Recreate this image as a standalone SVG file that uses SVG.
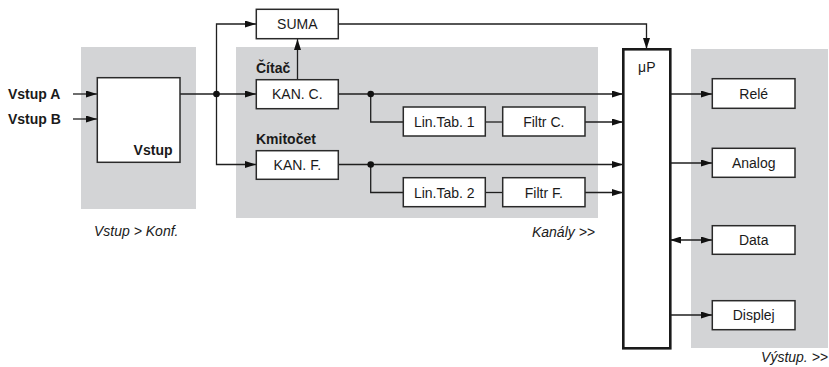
<svg xmlns="http://www.w3.org/2000/svg" width="829" height="367" viewBox="0 0 829 367">
<style>
.panel{fill:#d3d4d6;stroke:none}
.box{fill:#fff;stroke:#2a2a2a;stroke-width:1.5}
.up{fill:#fff;stroke:#1a1a1a;stroke-width:2.6}
text{font-family:"Liberation Sans",Arial,sans-serif;font-size:14px;fill:#1a1a1a}
.c{text-anchor:middle}
.b{font-weight:bold}
.i{font-style:italic}
.ln{fill:none;stroke:#1f1f1f;stroke-width:1.3}
.dot{fill:#111}
</style>
<defs>
<marker id="ah" markerUnits="userSpaceOnUse" markerWidth="12" markerHeight="8" refX="11" refY="3.5" orient="auto">
<path d="M0,0 L11,3.5 L0,7 z" fill="#111"/>
</marker>
<marker id="as" markerUnits="userSpaceOnUse" markerWidth="12" markerHeight="8" refX="0" refY="3.5" orient="auto">
<path d="M11,0 L0,3.5 L11,7 z" fill="#111"/>
</marker>
</defs>
<g id="panels">
<rect class="panel" x="81" y="47" width="115" height="162"/>
<rect class="panel" x="236" y="47" width="362" height="171"/>
<rect class="panel" x="691" y="49" width="137" height="299"/>
<text class="i" x="94" y="236">Vstup &gt; Konf.</text>
<text class="i" x="595" y="237" text-anchor="end">Kanály &gt;&gt;</text>
<text class="i" x="828" y="362" text-anchor="end">Výstup. &gt;&gt;</text>
</g>
<g id="connectors">
<line class="ln" x1="73" y1="94" x2="97" y2="94" marker-end="url(#ah)"/>
<line class="ln" x1="73" y1="119" x2="97" y2="119" marker-end="url(#ah)"/>
<line class="ln" x1="180" y1="94" x2="256" y2="94" marker-end="url(#ah)"/>
<path class="ln" d="M216.5,94 V24 H256" marker-end="url(#ah)"/>
<path class="ln" d="M216.5,94 V164.5 H256" marker-end="url(#ah)"/>
<line class="ln" x1="297.5" y1="80" x2="297.5" y2="39" marker-end="url(#ah)"/>
<path class="ln" d="M338,24 H646.5 V49" marker-end="url(#ah)"/>
<line class="ln" x1="338" y1="94" x2="623" y2="94" marker-end="url(#ah)"/>
<path class="ln" d="M370.7,94 V122 H403"/>
<line class="ln" x1="485" y1="122" x2="503" y2="122"/>
<line class="ln" x1="585" y1="122" x2="623" y2="122" marker-end="url(#ah)"/>
<line class="ln" x1="338" y1="164.5" x2="623" y2="164.5" marker-end="url(#ah)"/>
<path class="ln" d="M370.7,164.5 V192.5 H403"/>
<line class="ln" x1="485" y1="192.5" x2="503" y2="192.5"/>
<line class="ln" x1="585" y1="192.5" x2="623" y2="192.5" marker-end="url(#ah)"/>
<line class="ln" x1="670" y1="94" x2="712" y2="94" marker-end="url(#ah)"/>
<line class="ln" x1="670" y1="163" x2="712" y2="163" marker-end="url(#ah)"/>
<line class="ln" x1="670" y1="240" x2="712" y2="240" marker-start="url(#as)" marker-end="url(#ah)"/>
<line class="ln" x1="670" y1="315" x2="712" y2="315" marker-end="url(#ah)"/>
<circle class="dot" cx="216.5" cy="94" r="3.3"/>
<circle class="dot" cx="370.7" cy="94" r="3.3"/>
<circle class="dot" cx="370.7" cy="164.5" r="3.3"/>
</g>
<g id="inputs">
<text class="b" x="8" y="99">Vstup A</text>
<text class="b" x="8" y="123.5">Vstup B</text>
</g>
<g id="vstup">
<rect class="box" x="97.3" y="77.7" width="82.7" height="84.6"/>
<text class="b" x="172.5" y="155" text-anchor="end">Vstup</text>
</g>
<g id="suma">
<rect class="box" x="256.3" y="9.3" width="82" height="29.4"/>
<text class="c" x="297.3" y="29">SUMA</text>
</g>
<g id="kanc">
<text class="b" x="256" y="73.3">Čítač</text>
<rect class="box" x="256.3" y="79.7" width="82" height="29"/>
<text class="c" x="297.3" y="99">KAN. C.</text>
</g>
<g id="kanf">
<text class="b" x="256" y="144">Kmitočet</text>
<rect class="box" x="256.3" y="150.7" width="82" height="28.6"/>
<text class="c" x="297.3" y="169.5">KAN. F.</text>
</g>
<g id="lintab1">
<rect class="box" x="403.3" y="107" width="82" height="29"/>
<text class="c" x="444.3" y="127">Lin.Tab. 1</text>
</g>
<g id="filtrc">
<rect class="box" x="502.7" y="107" width="82.3" height="29"/>
<text class="c" x="543.8" y="127">Filtr C.</text>
</g>
<g id="lintab2">
<rect class="box" x="403.3" y="177.7" width="82" height="29"/>
<text class="c" x="444.3" y="197.5">Lin.Tab. 2</text>
</g>
<g id="filtrf">
<rect class="box" x="502.7" y="177.7" width="82.3" height="29"/>
<text class="c" x="543.8" y="197.5">Filtr F.</text>
</g>
<g id="up">
<rect class="up" x="623.3" y="49.3" width="47" height="299"/>
<text class="c" x="646.8" y="72">μP</text>
</g>
<g id="rele">
<rect class="box" x="712.3" y="78.7" width="82.7" height="29.6"/>
<text class="c" x="753.7" y="99">Relé</text>
</g>
<g id="analog">
<rect class="box" x="712.3" y="148.3" width="82.7" height="29"/>
<text class="c" x="753.7" y="168">Analog</text>
</g>
<g id="data">
<rect class="box" x="712.3" y="225.7" width="82.7" height="28.6"/>
<text class="c" x="753.7" y="245">Data</text>
</g>
<g id="displej">
<rect class="box" x="712.3" y="300.7" width="82.7" height="29"/>
<text class="c" x="753.7" y="320">Displej</text>
</g>
</svg>
